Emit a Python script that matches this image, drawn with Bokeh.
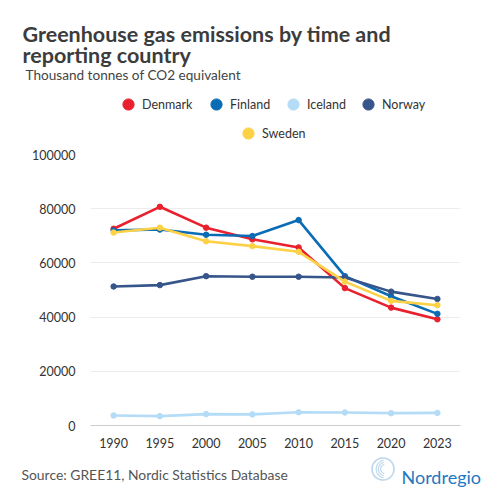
import numpy as np
from bokeh.plotting import figure
from bokeh.layouts import column
from bokeh.models import (ColumnDataSource, Label, Legend, LegendItem, FixedTicker,
                          NumeralTickFormatter, PolyAnnotation)
from bokeh.embed import file_html
from bokeh.resources import INLINE

years = ["1990", "1995", "2000", "2005", "2010", "2015", "2020", "2023"]
countries = ["Denmark", "Finland", "Iceland", "Norway", "Sweden"]
denmark = [72600, 80700, 73000, 68700, 65700, 50700, 43500, 39200]
finland = [72000, 72300, 70400, 69900, 75800, 55100, 47700, 41200]
iceland = [3700, 3450, 4200, 4100, 4900, 4800, 4550, 4650]
norway = [51300, 51800, 55100, 54900, 54900, 54600, 49400, 46700]
sweden = [71200, 73000, 68000, 66200, 64100, 53100, 46000, 44400]
y_ticks = [0, 20000, 40000, 60000, 80000, 100000]
colors = ["#e9202e", "#0a6cb4", "#b4dcf6", "#36558a", "#fdd146"]
series = [denmark, finland, iceland, norway, sweden]

FONT = "Lato"
W = 500
HEAD_H, CHART_H, FOOT_H = 140, 310, 50
CHART_TOP = HEAD_H
FOOT_TOP = HEAD_H + CHART_H


def blank_fig(h):
    f = figure(width=W, height=h, x_range=(0, W), y_range=(0, h),
               output_backend="svg", toolbar_location=None,
               x_axis_type=None, y_axis_type=None,
               min_border_left=0, min_border_right=0, min_border_top=0, min_border_bottom=0)
    f.frame_align = False
    f.outline_line_color = None
    f.xgrid.visible = False
    f.ygrid.visible = False
    f.border_fill_color = "white"
    f.background_fill_color = "white"
    return f


def add_label(f, top, text, px, py, size, color, style="normal"):
    h = f.height
    f.add_layout(Label(x=px, y=h - (py - top), x_units="screen", y_units="screen",
                       text=text, text_font=FONT, text_font_size=size,
                       text_color=color, text_font_style=style,
                       text_baseline="alphabetic", text_align="left"))


# ---------- header ----------
head = blank_fig(HEAD_H)
add_label(head, 0, "Greenhouse gas emissions by time and", 22, 33, "21.5px", "#3c3c3c", "bold")
add_label(head, 0, "reporting country", 22, 54, "21.5px", "#3c3c3c", "bold")
add_label(head, 0, "Thousand tonnes of CO2 equivalent", 25, 74, "13.6px", "#444444")

leg_pos = {"Denmark": (128, 104), "Finland": (216, 104), "Iceland": (293, 104),
           "Norway": (368, 104), "Sweden": (248, 133)}
for name, col in zip(countries, colors):
    dummy = head.scatter(x=[-50], y=[-50], size=11, fill_color=col, line_color=col,
                         marker="circle")
    cxp, cyp = leg_pos[name]
    lg = Legend(items=[LegendItem(label=name, renderers=[dummy])],
                location=(cxp - 14, HEAD_H - (cyp + 14)), orientation="horizontal",
                glyph_width=28, glyph_height=28, label_standoff=-3,
                padding=0, margin=0, border_line_color=None,
                background_fill_alpha=0, label_text_font=FONT,
                label_text_font_size="12.5px", label_text_color="#333333")
    head.add_layout(lg, "center")

# ---------- chart ----------
L, R = 90, 40
FRAME_TOP, FRAME_BOT = 154, 425
p = figure(width=W, height=CHART_H, x_range=years, y_range=(0, 100000),
           output_backend="svg", toolbar_location=None,
           min_border_left=L, min_border_right=R,
           min_border_top=FRAME_TOP - CHART_TOP, min_border_bottom=FOOT_TOP - FRAME_BOT)
p.frame_align = False
p.outline_line_color = None
p.background_fill_color = "white"
p.border_fill_color = "white"
p.xgrid.grid_line_color = None
p.ygrid.grid_line_color = "#ececec"
p.ygrid.grid_line_width = 1

p.yaxis.ticker = FixedTicker(ticks=y_ticks)
p.yaxis.formatter = NumeralTickFormatter(format="0")
p.yaxis.axis_line_color = None
p.yaxis.major_tick_line_color = None
p.yaxis.minor_tick_line_color = None
p.yaxis.major_label_standoff = 9
p.xaxis.axis_line_color = "#cccccc"
p.xaxis.major_tick_line_color = None
p.xaxis.minor_tick_line_color = None
p.xaxis.major_label_standoff = 6
for ax in (p.xaxis, p.yaxis):
    ax.major_label_text_font = FONT
    ax.major_label_text_font_size = "12.5px"
    ax.major_label_text_color = "#333333"

for name, vals, col in zip(countries, series, colors):
    src = ColumnDataSource(dict(x=years, y=vals))
    p.line("x", "y", source=src, line_color=col, line_width=2.6)
    p.scatter("x", "y", source=src, size=5.5, fill_color=col, line_color=col)

# ---------- footer ----------
foot = blank_fig(FOOT_H)
add_label(foot, FOOT_TOP, "Source: GREE11, Nordic Statistics Database", 21, 474, "13.9px", "#555555")
add_label(foot, FOOT_TOP, "Nordregio", 401, 476, "18px", "#1f78c1", "normal")

cx, cy, r = 382.5, FOOT_H - (468.5 - FOOT_TOP), 11
t = np.linspace(0, 2 * np.pi, 60)
foot.add_layout(PolyAnnotation(xs=list(cx + r * np.cos(t)), ys=list(cy + r * np.sin(t)),
                               xs_units="screen", ys_units="screen",
                               fill_alpha=0, line_color="#1f78c1", line_width=1.6))
for k in range(3):
    t2 = np.linspace(0.55 * np.pi, 1.45 * np.pi, 20)
    rr = r * (0.8 - 0.2 * k)
    xs = list(cx + 2 + rr * np.cos(t2))
    ys = list(cy + rr * np.sin(t2))
    foot.add_layout(PolyAnnotation(xs=xs + xs[::-1], ys=ys + ys[::-1],
                                   xs_units="screen", ys_units="screen",
                                   fill_alpha=0, line_color="#1f78c1", line_width=1.1))

layout = column(head, p, foot, spacing=0)
open("out.html", "w").write(file_html(layout, INLINE))
